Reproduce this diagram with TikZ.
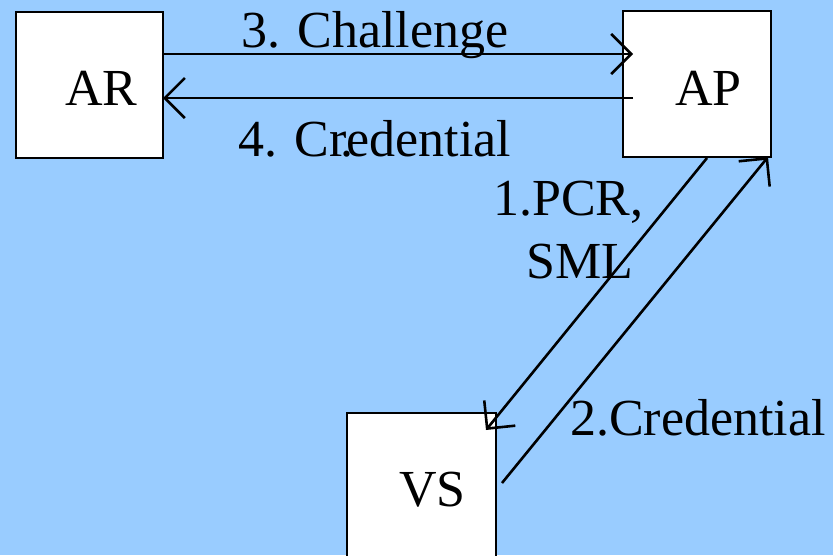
\documentclass[tikz,border=0pt]{standalone}
\usepackage{fontspec}
\setmainfont{Liberation Serif}
\newfontfamily\timesfont{Liberation Serif}
\usetikzlibrary{arrows.meta}
\definecolor{skyblue}{HTML}{99CCFF}
\tikzset{
  box/.style={draw=black, fill=white, line width=2.6pt},
  lbl/.style={anchor=base west, inner sep=0pt, font=\timesfont\fontsize{52}{60}\selectfont},
  msg/.style={draw=black, line width=2.6pt, -{Straight Barb[length=20pt, width=40pt, line width=2.6pt]}},
}
\begin{document}
\begin{tikzpicture}[x=1pt, y=-1pt]
  \useasboundingbox (0,0) rectangle (833,555);
  \clip (0,0) rectangle (833,555);
  \fill[skyblue] (0,0) rectangle (833,555);

  % boxes
  \draw[box] (16,12) rectangle (163,158);
  \draw[box] (623,11) rectangle (771,157);
  \draw[box] (347,413) rectangle (496,575);

  \node[lbl] (AR) at (65,105) {AR};
  \node[lbl] (AP) at (675,105) {AP};
  \node[lbl] (VS) at (399,506) {VS};

  % message end points on the boxes
  \coordinate (ARout) at (163,54);
  \coordinate (APin)  at (633,54);
  \coordinate (APout) at (633,98);
  \coordinate (ARin)  at (163,98);
  \coordinate (APdown) at (707,158);
  \coordinate (VSin)  at (486,430);
  \coordinate (VSout) at (502,483);
  \coordinate (APcorner) at (768,157);

  \draw[msg] (ARout) -- (APin);
  \draw[msg] (APout) -- (ARin);
  \draw[msg] (APdown) -- (VSin);
  \draw[msg] (VSout) -- (APcorner);

  % message labels
  \node[lbl] (m3) at (241,47) {3. Challenge};
  \node[lbl] (m4) at (238,156) {4. Cr\kern-0.12em.\kern-0.13em edential};
  \node[lbl] (m1a) at (493,215) {1.PCR,};
  \node[lbl] (m1b) at (526,278) {SML};
  \node[lbl] (m2) at (570,435) {2.Credential};
\end{tikzpicture}
\end{document}
